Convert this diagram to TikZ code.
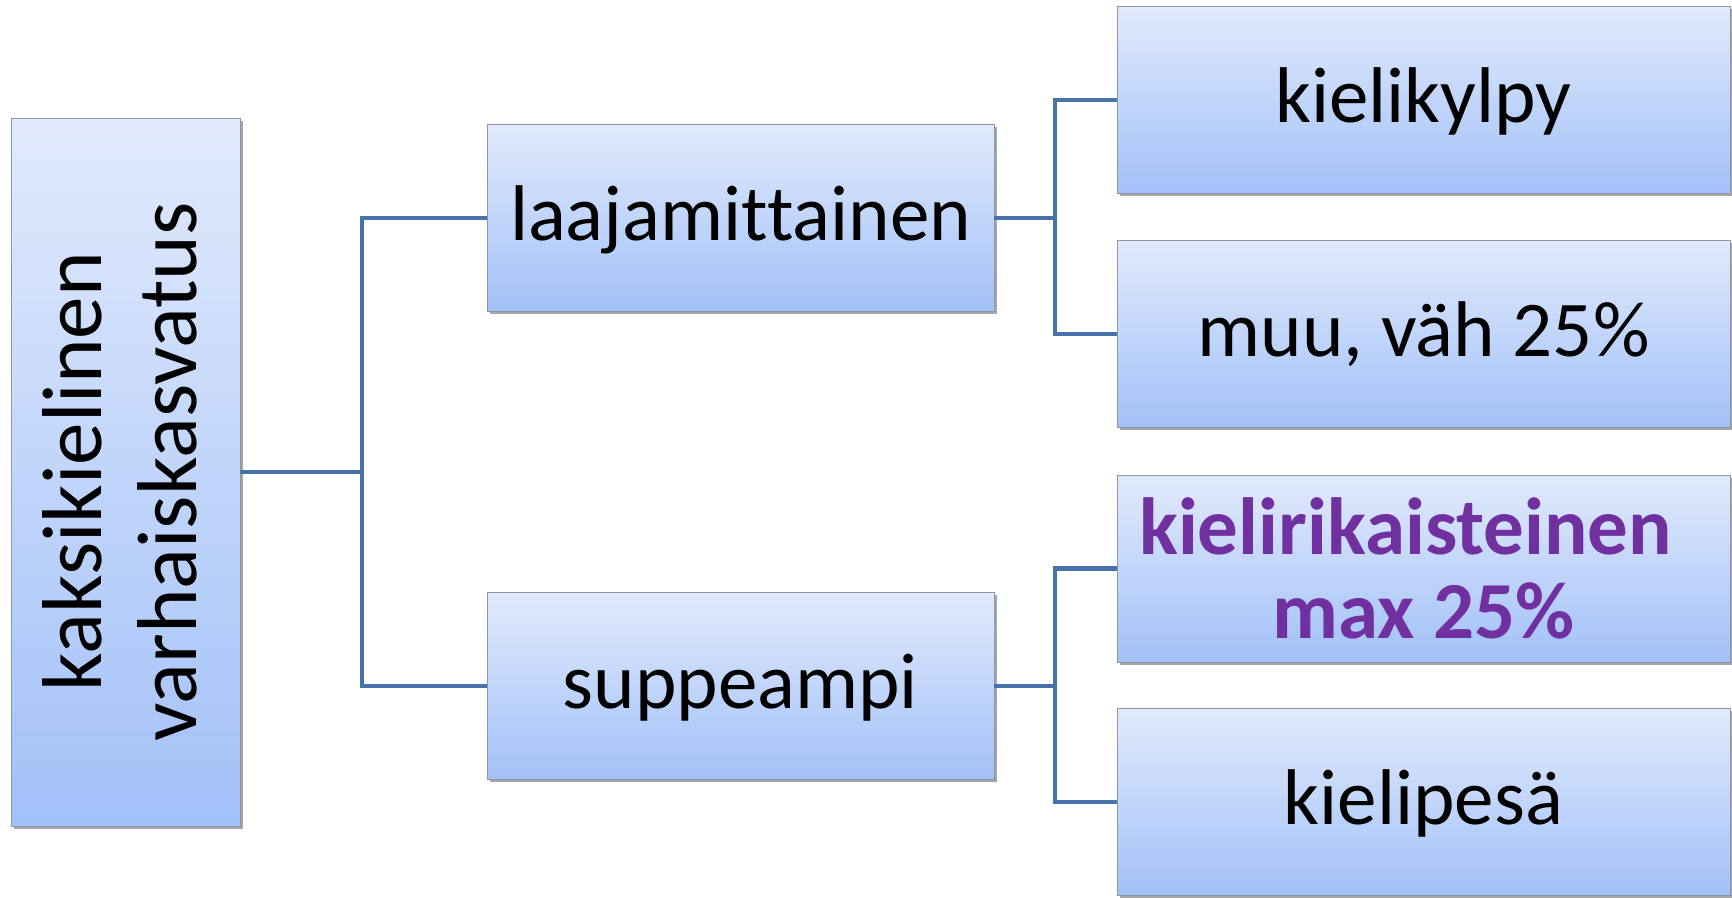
\documentclass[tikz,border=0pt]{standalone}
\usepackage{fontspec}
\setmainfont{Carlito}[Ligatures=NoCommon]
\usetikzlibrary{shadows}
\definecolor{boxtop}{RGB}{225,234,252}
\definecolor{boxbot}{RGB}{162,193,248}
\definecolor{boxline}{RGB}{140,150,165}
\definecolor{connc}{RGB}{72,114,170}
\definecolor{purp}{RGB}{112,48,160}
\begin{document}
\begin{tikzpicture}[x=1pt,y=-1pt,
  box/.style={draw=boxline, line width=0.8pt, top color=boxtop, bottom color=boxbot,
    rectangle, inner sep=0pt,
    drop shadow={shadow xshift=2.5pt, shadow yshift=-2.5pt, fill=black, opacity=0.35}},
  lbl/.style={font=\fontsize{79}{84}\selectfont, text height=60pt, text depth=16pt},
  wbox/.style={box, minimum width=507pt, minimum height=187pt},
  cbox/.style={box, minimum width=613pt, minimum height=187pt},
  conn/.style={draw=connc, line width=4.5pt, line join=miter}]
\useasboundingbox[fill=white] (0,0) rectangle (1732,897);

\node[box, minimum width=229pt, minimum height=708pt] (L) at (125.5,472) {};
\node[font=\fontsize{85}{95}\selectfont, rotate=90, align=center] (Lt)
  at ([xshift=-6pt]L.center) {kaksikielinen\\varhaiskasvatus};

\node[wbox, lbl] (A) at (740.5,218) {laajamittainen};
\node[wbox, lbl] (B) at (740.5,686) {suppeampi};

\node[cbox, lbl] (C1) at (1423.5,100) {kielikylpy};
\node[cbox, lbl] (C2) at (1423.5,334) {muu, väh 25\%};
\node[cbox, font=\bfseries\fontsize{81}{84}\selectfont, text=purp, align=center]
  (C3) at (1423.5,568.5) {kielirikaisteinen\hspace*{36pt}\\max 25\%};
\node[cbox, lbl] (C4) at (1423.5,802) {kielipesä};

\coordinate (j1) at (362,472);
\coordinate (j2) at (1055,218);
\coordinate (j3) at (1055,686);

\draw[conn] (L.east) -- (j1);
\draw[conn] (A.west) -| (j1) |- (B.west);
\draw[conn] (A.east) -- (j2);
\draw[conn] (C1.west) -| (j2) |- (C2.west);
\draw[conn] (B.east) -- (j3);
\draw[conn] (C3.west) -| (j3) |- (C4.west);
\end{tikzpicture}
\end{document}
